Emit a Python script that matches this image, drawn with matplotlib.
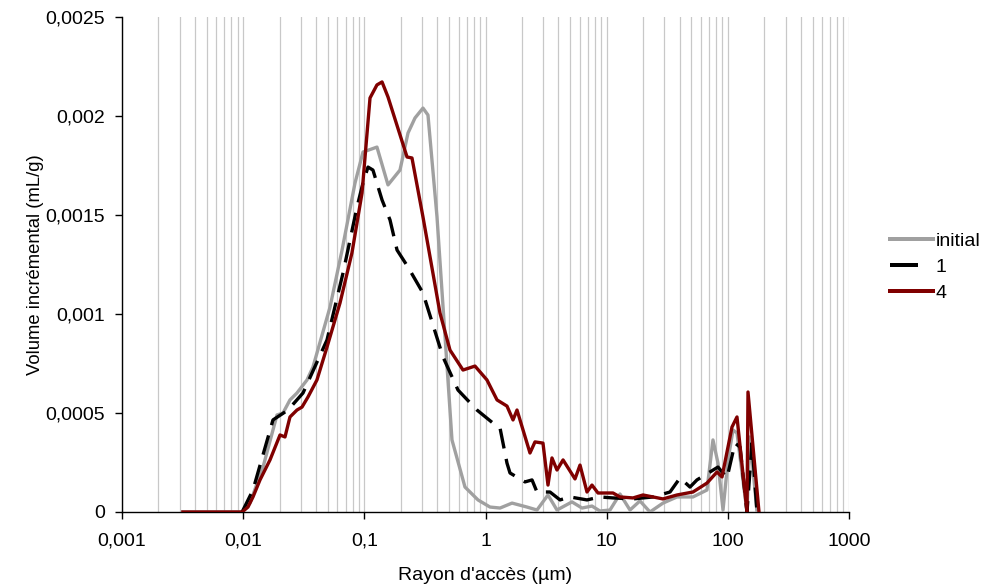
import numpy as np
import matplotlib
matplotlib.use("Agg")
import matplotlib.pyplot as plt
from matplotlib.lines import Line2D
from matplotlib.ticker import LogLocator, FixedLocator, NullFormatter

plt.rcParams['font.family'] = ['Liberation Sans', 'DejaVu Sans']

# ---- data (radius in µm, incremental volume in 1e-4 mL/g) ----
x_initial = [0.00318, 0.0098, 0.01138, 0.01459, 0.01902, 0.02132, 0.02434, 0.0278, 0.03365, 0.03767,
             0.0521, 0.0655, 0.0838, 0.0975, 0.1271, 0.1568, 0.1969, 0.2293, 0.2619, 0.3048,
             0.3351, 0.3979, 0.5289, 0.6772, 0.867, 1.089, 1.318, 1.656, 2.2, 2.66,
             3.279, 3.89, 5.172, 6.257, 7.564, 8.8, 10.65, 12.88, 15.58, 18.82,
             22.78, 29.16, 38.05, 51.56, 67.25, 75.39, 82.93, 91.25, 100.4, 110.3,
             119.0, 143.9, 152.3, 174.1]
y_initial = [0, 0, 0.45, 2.27, 4.90, 5.00, 5.66, 6.01, 6.67, 7.32,
             10.35, 13.23, 16.62, 18.18, 18.43, 16.52, 17.27, 19.14, 19.90, 20.40,
             20.05, 14.90, 3.64, 1.26, 0.61, 0.25, 0.20, 0.45, 0.25, 0.10,
             0.86, 0.10, 0.51, 0.20, 0.30, 0.05, 0.10, 0.91, 0.10, 0.56,
             0, 0.45, 0.76, 0.76, 1.11, 3.64, 2.47, 0.10, 2.63, 4.14,
             3.99, 0, 3.79, 0]

x_1 = [0.0098, 0.01205, 0.01762, 0.02344, 0.03117, 0.0492, 0.0667, 0.087, 0.0975, 0.1072,
       0.1178, 0.14, 0.1629, 0.1862, 0.2293, 0.3048, 0.4459, 0.5929, 0.8505, 1.153,
       1.318, 1.504, 1.593, 2.118, 2.421, 2.66, 3.405, 4.121, 4.981, 6.88,
       8.8, 11.28, 16.5, 24.12, 33.33, 40.3, 48.73, 55.61, 82.93, 98.45,
       114.6, 126.0, 143.9, 158.3, 174.1]
y_1 = [0, 1.11, 4.65, 5.15, 6.01, 8.69, 12.07, 15.40, 16.62, 17.42,
       17.27, 15.76, 14.75, 13.23, 12.37, 11.06, 7.83, 6.16, 5.15, 4.49,
       4.24, 2.47, 1.97, 1.52, 1.62, 1.01, 1.01, 0.61, 0.76, 0.61,
       0.76, 0.71, 0.66, 0.76, 1.01, 1.72, 1.26, 1.62, 2.27, 1.72,
       3.48, 3.28, 0, 3.48, 0]

x_4 = [0.00318, 0.0098, 0.01096, 0.01205, 0.01377, 0.01665, 0.02014, 0.02214, 0.02434, 0.0278,
       0.0306, 0.03428, 0.04064, 0.0492, 0.063, 0.079, 0.0957, 0.1114, 0.1271, 0.14,
       0.1568, 0.2251, 0.2473, 0.3048, 0.421, 0.5091, 0.652, 0.819, 1.028, 1.245,
       1.504, 1.687, 1.82, 2.329, 2.561, 2.981, 3.279, 3.537, 3.89, 4.366,
       5.479, 6.026, 6.88, 7.564, 8.48, 11.28, 12.88, 16.5, 19.93, 24.12,
       29.16, 38.05, 51.56, 67.25, 81.39, 89.55, 108.2, 119.0, 143.9, 146.7,
       180.8]
y_4 = [0, 0, 0.25, 0.76, 1.62, 2.63, 3.89, 3.79, 4.80, 5.15,
       5.30, 5.81, 6.67, 8.33, 10.56, 13.08, 16.11, 20.91, 21.57, 21.72,
       20.96, 17.93, 17.88, 14.90, 10.05, 8.18, 7.17, 7.37, 6.67, 5.66,
       5.35, 4.65, 5.15, 2.98, 3.54, 3.48, 1.36, 2.73, 2.12, 2.63,
       1.67, 2.37, 1.01, 1.36, 0.96, 0.96, 0.76, 0.71, 0.86, 0.76,
       0.66, 0.86, 1.01, 1.46, 2.02, 1.77, 4.29, 4.80, 0, 6.06,
       0]

scale = 1e-4
series_names = ['initial', '1', '4']
series_colors = ['#a0a0a0', '#000000', '#800000']

xtick_vals = [0.001, 0.01, 0.1, 1, 10, 100, 1000]
xtick_labels = ['0,001', '0,01', '0,1', '1', '10', '100', '1000']
ytick_vals = [0, 0.0005, 0.001, 0.0015, 0.002, 0.0025]
ytick_labels = ['0', '0,0005', '0,001', '0,0015', '0,002', '0,0025']

LW = 2.4
fig = plt.figure(figsize=(9.97, 5.87), dpi=100)
ax = fig.add_axes([122/997, 75/587, 727/997, 495/587])

ax.plot(x_initial, np.array(y_initial) * scale, color=series_colors[0], lw=LW, zorder=3)
ax.plot(x_1, np.array(y_1) * scale, color=series_colors[1], lw=LW, dashes=(6, 3.2), zorder=4)
ax.plot(x_4, np.array(y_4) * scale, color=series_colors[2], lw=LW, zorder=5)

ax.set_xscale('log')
ax.set_xlim(0.001, 1000)
ax.set_ylim(0, 0.0025)

ax.xaxis.set_major_locator(FixedLocator(xtick_vals))
ax.set_xticklabels(xtick_labels)
ax.xaxis.set_minor_locator(LogLocator(base=10, subs=np.arange(2, 10), numticks=100))
ax.xaxis.set_minor_formatter(NullFormatter())
ax.set_yticks(ytick_vals)
ax.set_yticklabels(ytick_labels)

ax.grid(True, axis='x', which='both', color='#c8c8c8', lw=0.9, zorder=0)
ax.set_axisbelow(True)
ax.tick_params(axis='x', which='minor', length=0)
ax.tick_params(axis='both', which='major', direction='out', length=5, width=1, labelsize=14)
ax.tick_params(axis='x', which='major', pad=10)
ax.tick_params(axis='y', which='major', pad=7)

for s in ['top', 'right']:
    ax.spines[s].set_visible(False)
for s in ['left', 'bottom']:
    ax.spines[s].set_color('black')
    ax.spines[s].set_linewidth(1)

ax.set_xlabel("Rayon d'accès (µm)", fontsize=14, labelpad=12)
ax.set_ylabel("Volume incrémental (mL/g)", fontsize=13.3, labelpad=1)

handles = [Line2D([], [], color=series_colors[0], lw=LW * 1.2),
           Line2D([], [], color=series_colors[1], lw=LW * 1.2, dashes=(7, 10)),
           Line2D([], [], color=series_colors[2], lw=LW * 1.2)]
fig.legend(handles, series_names, loc='center left', bbox_to_anchor=(890/997, 1 - 267/587),
           frameon=False, fontsize=14, handlelength=2.2, handletextpad=0.15,
           labelspacing=0.43, borderpad=0, borderaxespad=0)

fig.savefig('out.png', dpi=100)
